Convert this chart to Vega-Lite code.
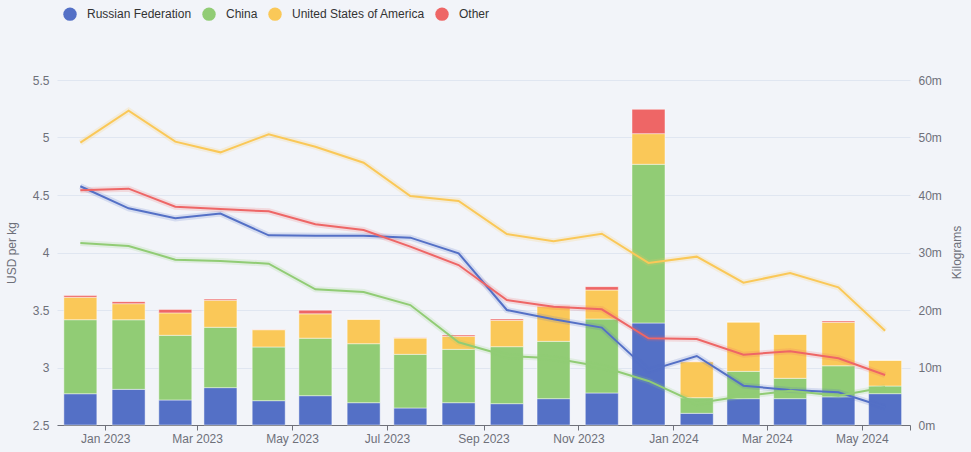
{
  "$schema": "https://vega.github.io/schema/vega-lite/v6.json",
  "width": 853,
  "height": 345,
  "autosize": {"type": "none"},
  "padding": {"left": 57, "top": 80, "right": 61, "bottom": 27},
  "background": "#f2f4f9",
  "config": {
    "font": "Liberation Sans",
    "view": {"stroke": null},
    "axis": {
      "labelColor": "#6e7079",
      "labelFontSize": 12,
      "labelFont": "Liberation Sans",
      "titleColor": "#6e7079",
      "titleFontSize": 12,
      "titleFontWeight": "normal",
      "titleFont": "Liberation Sans"
    }
  },
  "datasets": {
    "volumes": [
      {"month": "2022-12-16", "country": "Russian Federation", "kg": 5440000},
      {"month": "2022-12-16", "country": "China", "kg": 12870000},
      {"month": "2022-12-16", "country": "United States of America", "kg": 3900000},
      {"month": "2022-12-16", "country": "Other", "kg": 300000},
      {"month": "2023-01-16", "country": "Russian Federation", "kg": 6200000},
      {"month": "2023-01-16", "country": "China", "kg": 12100000},
      {"month": "2023-01-16", "country": "United States of America", "kg": 2800000},
      {"month": "2023-01-16", "country": "Other", "kg": 350000},
      {"month": "2023-02-15", "country": "Russian Federation", "kg": 4350000},
      {"month": "2023-02-15", "country": "China", "kg": 11250000},
      {"month": "2023-02-15", "country": "United States of America", "kg": 3900000},
      {"month": "2023-02-15", "country": "Other", "kg": 600000},
      {"month": "2023-03-16", "country": "Russian Federation", "kg": 6500000},
      {"month": "2023-03-16", "country": "China", "kg": 10500000},
      {"month": "2023-03-16", "country": "United States of America", "kg": 4700000},
      {"month": "2023-03-16", "country": "Other", "kg": 200000},
      {"month": "2023-04-16", "country": "Russian Federation", "kg": 4230000},
      {"month": "2023-04-16", "country": "China", "kg": 9340000},
      {"month": "2023-04-16", "country": "United States of America", "kg": 3000000},
      {"month": "2023-04-16", "country": "Other", "kg": 30000},
      {"month": "2023-05-16", "country": "Russian Federation", "kg": 5100000},
      {"month": "2023-05-16", "country": "China", "kg": 10000000},
      {"month": "2023-05-16", "country": "United States of America", "kg": 4230000},
      {"month": "2023-05-16", "country": "Other", "kg": 640000},
      {"month": "2023-06-16", "country": "Russian Federation", "kg": 3880000},
      {"month": "2023-06-16", "country": "China", "kg": 10260000},
      {"month": "2023-06-16", "country": "United States of America", "kg": 4240000},
      {"month": "2023-06-16", "country": "Other", "kg": 30000},
      {"month": "2023-07-16", "country": "Russian Federation", "kg": 2960000},
      {"month": "2023-07-16", "country": "China", "kg": 9330000},
      {"month": "2023-07-16", "country": "United States of America", "kg": 2840000},
      {"month": "2023-07-16", "country": "Other", "kg": 30000},
      {"month": "2023-08-16", "country": "Russian Federation", "kg": 3880000},
      {"month": "2023-08-16", "country": "China", "kg": 9280000},
      {"month": "2023-08-16", "country": "United States of America", "kg": 2260000},
      {"month": "2023-08-16", "country": "Other", "kg": 230000},
      {"month": "2023-09-16", "country": "Russian Federation", "kg": 3710000},
      {"month": "2023-09-16", "country": "China", "kg": 9910000},
      {"month": "2023-09-16", "country": "United States of America", "kg": 4580000},
      {"month": "2023-09-16", "country": "Other", "kg": 230000},
      {"month": "2023-10-16", "country": "Russian Federation", "kg": 4580000},
      {"month": "2023-10-16", "country": "China", "kg": 9970000},
      {"month": "2023-10-16", "country": "United States of America", "kg": 6100000},
      {"month": "2023-10-16", "country": "Other", "kg": 100000},
      {"month": "2023-11-16", "country": "Russian Federation", "kg": 5570000},
      {"month": "2023-11-16", "country": "China", "kg": 12860000},
      {"month": "2023-11-16", "country": "United States of America", "kg": 5050000},
      {"month": "2023-11-16", "country": "Other", "kg": 580000},
      {"month": "2023-12-16", "country": "Russian Federation", "kg": 17740000},
      {"month": "2023-12-16", "country": "China", "kg": 27600000},
      {"month": "2023-12-16", "country": "United States of America", "kg": 5330000},
      {"month": "2023-12-16", "country": "Other", "kg": 4230000},
      {"month": "2024-01-16", "country": "Russian Federation", "kg": 2030000},
      {"month": "2024-01-16", "country": "China", "kg": 2720000},
      {"month": "2024-01-16", "country": "United States of America", "kg": 6260000},
      {"month": "2024-01-16", "country": "Other", "kg": 30000},
      {"month": "2024-02-15", "country": "Russian Federation", "kg": 4580000},
      {"month": "2024-02-15", "country": "China", "kg": 4750000},
      {"month": "2024-02-15", "country": "United States of America", "kg": 8570000},
      {"month": "2024-02-15", "country": "Other", "kg": 30000},
      {"month": "2024-03-16", "country": "Russian Federation", "kg": 4580000},
      {"month": "2024-03-16", "country": "China", "kg": 3540000},
      {"month": "2024-03-16", "country": "United States of America", "kg": 7650000},
      {"month": "2024-03-16", "country": "Other", "kg": 30000},
      {"month": "2024-04-16", "country": "Russian Federation", "kg": 4900000},
      {"month": "2024-04-16", "country": "China", "kg": 5400000},
      {"month": "2024-04-16", "country": "United States of America", "kg": 7560000},
      {"month": "2024-04-16", "country": "Other", "kg": 230000},
      {"month": "2024-05-16", "country": "Russian Federation", "kg": 5450000},
      {"month": "2024-05-16", "country": "China", "kg": 1330000},
      {"month": "2024-05-16", "country": "United States of America", "kg": 4470000},
      {"month": "2024-05-16", "country": "Other", "kg": 30000}
    ],
    "prices": [
      {"month": "2022-12-16", "country": "Russian Federation", "usd": 4.576},
      {"month": "2023-01-16", "country": "Russian Federation", "usd": 4.384},
      {"month": "2023-02-15", "country": "Russian Federation", "usd": 4.297},
      {"month": "2023-03-16", "country": "Russian Federation", "usd": 4.338},
      {"month": "2023-04-16", "country": "Russian Federation", "usd": 4.149},
      {"month": "2023-05-16", "country": "Russian Federation", "usd": 4.146},
      {"month": "2023-06-16", "country": "Russian Federation", "usd": 4.146},
      {"month": "2023-07-16", "country": "Russian Federation", "usd": 4.129},
      {"month": "2023-08-16", "country": "Russian Federation", "usd": 3.993},
      {"month": "2023-09-16", "country": "Russian Federation", "usd": 3.5},
      {"month": "2023-10-16", "country": "Russian Federation", "usd": 3.419},
      {"month": "2023-11-16", "country": "Russian Federation", "usd": 3.347},
      {"month": "2023-12-16", "country": "Russian Federation", "usd": 2.972},
      {"month": "2024-01-16", "country": "Russian Federation", "usd": 3.1},
      {"month": "2024-02-15", "country": "Russian Federation", "usd": 2.842},
      {"month": "2024-03-16", "country": "Russian Federation", "usd": 2.804},
      {"month": "2024-04-16", "country": "Russian Federation", "usd": 2.784},
      {"month": "2024-05-16", "country": "Russian Federation", "usd": 2.654},
      {"month": "2022-12-16", "country": "China", "usd": 4.083},
      {"month": "2023-01-16", "country": "China", "usd": 4.057},
      {"month": "2023-02-15", "country": "China", "usd": 3.938},
      {"month": "2023-03-16", "country": "China", "usd": 3.926},
      {"month": "2023-04-16", "country": "China", "usd": 3.903},
      {"month": "2023-05-16", "country": "China", "usd": 3.68},
      {"month": "2023-06-16", "country": "China", "usd": 3.657},
      {"month": "2023-07-16", "country": "China", "usd": 3.543},
      {"month": "2023-08-16", "country": "China", "usd": 3.219},
      {"month": "2023-09-16", "country": "China", "usd": 3.1},
      {"month": "2023-10-16", "country": "China", "usd": 3.08},
      {"month": "2023-11-16", "country": "China", "usd": 3.007},
      {"month": "2023-12-16", "country": "China", "usd": 2.883},
      {"month": "2024-01-16", "country": "China", "usd": 2.689},
      {"month": "2024-02-15", "country": "China", "usd": 2.752},
      {"month": "2024-03-16", "country": "China", "usd": 2.798},
      {"month": "2024-04-16", "country": "China", "usd": 2.755},
      {"month": "2024-05-16", "country": "China", "usd": 2.828},
      {"month": "2022-12-16", "country": "United States of America", "usd": 4.955},
      {"month": "2023-01-16", "country": "United States of America", "usd": 5.233},
      {"month": "2023-02-15", "country": "United States of America", "usd": 4.964},
      {"month": "2023-03-16", "country": "United States of America", "usd": 4.871},
      {"month": "2023-04-16", "country": "United States of America", "usd": 5.028},
      {"month": "2023-05-16", "country": "United States of America", "usd": 4.92},
      {"month": "2023-06-16", "country": "United States of America", "usd": 4.781},
      {"month": "2023-07-16", "country": "United States of America", "usd": 4.491},
      {"month": "2023-08-16", "country": "United States of America", "usd": 4.448},
      {"month": "2023-09-16", "country": "United States of America", "usd": 4.161},
      {"month": "2023-10-16", "country": "United States of America", "usd": 4.097},
      {"month": "2023-11-16", "country": "United States of America", "usd": 4.163},
      {"month": "2023-12-16", "country": "United States of America", "usd": 3.909},
      {"month": "2024-01-16", "country": "United States of America", "usd": 3.964},
      {"month": "2024-02-15", "country": "United States of America", "usd": 3.737},
      {"month": "2024-03-16", "country": "United States of America", "usd": 3.822},
      {"month": "2024-04-16", "country": "United States of America", "usd": 3.697},
      {"month": "2024-05-16", "country": "United States of America", "usd": 3.32},
      {"month": "2022-12-16", "country": "Other", "usd": 4.541},
      {"month": "2023-01-16", "country": "Other", "usd": 4.555},
      {"month": "2023-02-15", "country": "Other", "usd": 4.398},
      {"month": "2023-03-16", "country": "Other", "usd": 4.378},
      {"month": "2023-04-16", "country": "Other", "usd": 4.358},
      {"month": "2023-05-16", "country": "Other", "usd": 4.245},
      {"month": "2023-06-16", "country": "Other", "usd": 4.196},
      {"month": "2023-07-16", "country": "Other", "usd": 4.051},
      {"month": "2023-08-16", "country": "Other", "usd": 3.891},
      {"month": "2023-09-16", "country": "Other", "usd": 3.587},
      {"month": "2023-10-16", "country": "Other", "usd": 3.529},
      {"month": "2023-11-16", "country": "Other", "usd": 3.506},
      {"month": "2023-12-16", "country": "Other", "usd": 3.254},
      {"month": "2024-01-16", "country": "Other", "usd": 3.248},
      {"month": "2024-02-15", "country": "Other", "usd": 3.111},
      {"month": "2024-03-16", "country": "Other", "usd": 3.141},
      {"month": "2024-04-16", "country": "Other", "usd": 3.08},
      {"month": "2024-05-16", "country": "Other", "usd": 2.935}
    ]
  },
  "layer": [
    {
      "data": {"name": "volumes"},
      "transform": [
        {"calculate": "indexof(['Russian Federation', 'China', 'United States of America', 'Other'], datum.country)", "as": "stackOrder"}
      ],
      "mark": {"type": "bar", "size": 33, "stroke": "#ffffff", "strokeOpacity": 0.45, "strokeWidth": 1},
      "encoding": {
        "x": {
          "field": "month", "type": "temporal",
          "scale": {"type": "utc", "padding": 0, "domain": [{"year": 2022, "month": 12, "date": 1, "utc": true}, {"year": 2024, "month": 6, "date": 1, "utc": true}]},
          "axis": {
            "title": null, "grid": false,
            "values": [
              {"year": 2023, "month": 1, "date": 1, "utc": true},
              {"year": 2023, "month": 3, "date": 1, "utc": true},
              {"year": 2023, "month": 5, "date": 1, "utc": true},
              {"year": 2023, "month": 7, "date": 1, "utc": true},
              {"year": 2023, "month": 9, "date": 1, "utc": true},
              {"year": 2023, "month": 11, "date": 1, "utc": true},
              {"year": 2024, "month": 1, "date": 1, "utc": true},
              {"year": 2024, "month": 3, "date": 1, "utc": true},
              {"year": 2024, "month": 5, "date": 1, "utc": true},
              {"year": 2024, "month": 6, "date": 1, "utc": true}
            ],
            "labelExpr": "utcmonth(datum.value) == 5 ? '' : utcFormat(datum.value, '%b %Y')",
            "domainColor": "#6e7079", "tickColor": "#6e7079", "tickSize": 5,
            "labelPadding": 3, "labelFlush": false, "labelOverlap": false
          }
        },
        "y": {
          "field": "kg", "type": "quantitative", "stack": "zero",
          "scale": {"domain": [0, 60000000], "nice": false},
          "axis": {
            "orient": "right", "title": "Kilograms", "titleAngle": 270,
            "titleX": 46, "titleY": 172, "titleAlign": "center", "titleBaseline": "middle",
            "values": [0, 10000000, 20000000, 30000000, 40000000, 50000000, 60000000],
            "labelExpr": "(datum.value / 1000000) + 'm'",
            "grid": false, "domain": false, "ticks": false,
            "labelPadding": 8
          }
        },
        "color": {
          "field": "country", "type": "nominal",
          "sort": ["Russian Federation", "China", "United States of America", "Other"],
          "scale": {
            "domain": ["Russian Federation", "China", "United States of America", "Other"],
            "range": ["#5470c6", "#91cc75", "#fac858", "#ee6666"]
          },
          "legend": {
            "orient": "none", "legendX": 6, "legendY": -73, "direction": "horizontal",
            "title": null, "symbolType": "circle", "symbolSize": 180, "symbolStrokeWidth": 0,
            "symbolOpacity": 1, "labelFont": "Liberation Sans", "labelFontSize": 12,
            "labelColor": "#333333", "labelOffset": 10, "columnPadding": 10, "padding": 0
          }
        },
        "order": {"field": "stackOrder", "type": "quantitative", "sort": "ascending"}
      }
    },
    {
      "data": {"name": "prices"},
      "encoding": {
        "x": {
          "field": "month", "type": "temporal",
          "scale": {"type": "utc", "padding": 0, "domain": [{"year": 2022, "month": 12, "date": 1, "utc": true}, {"year": 2024, "month": 6, "date": 1, "utc": true}]}
        },
        "y": {
          "field": "usd", "type": "quantitative",
          "scale": {"domain": [2.5, 5.5], "nice": false, "zero": false},
          "axis": {
            "orient": "left", "title": "USD per kg", "format": "~g",
            "values": [2.5, 3, 3.5, 4, 4.5, 5, 5.5],
            "grid": true, "gridColor": "#e0e6f1", "domain": false, "ticks": false,
            "labelPadding": 8, "titlePadding": 14
          }
        },
        "color": {
          "field": "country", "type": "nominal",
          "sort": ["Russian Federation", "China", "United States of America", "Other"],
          "legend": null
        }
      },
      "layer": [
        {"mark": {"type": "line", "strokeWidth": 6, "opacity": 0.18}},
        {"mark": {"type": "line", "strokeWidth": 2}}
      ]
    }
  ],
  "resolve": {"scale": {"y": "independent"}}
}
